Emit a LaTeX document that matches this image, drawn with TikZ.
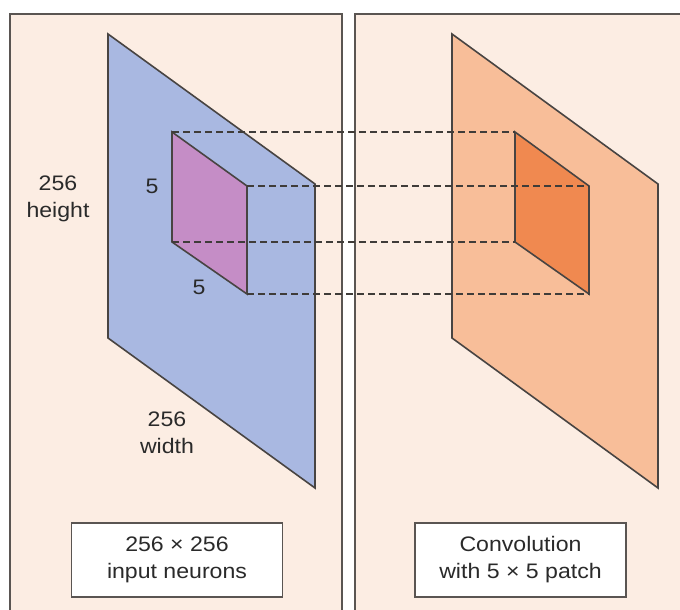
\documentclass[tikz,border=0pt]{standalone}
\usepackage{fontspec}
\setmainfont{Liberation Sans}[FakeStretch=1.1]
\definecolor{panelbg}{HTML}{FCEDE3}
\definecolor{edge}{HTML}{5A5552}
\definecolor{bluef}{HTML}{A9B8E1}
\definecolor{purplef}{HTML}{C58DC6}
\definecolor{orangef}{HTML}{F8BE99}
\definecolor{darkorf}{HTML}{F08950}
\definecolor{txt}{HTML}{2A2A2A}
\tikzset{
  panel/.style={draw=edge, line width=2pt},
  plane/.style={draw=edge!80!black, line width=1.6pt, line join=miter},
  guide/.style={draw=edge!70!black, line width=1.2pt, dash pattern=on 7pt off 4pt},
  label/.style={font=\fontsize{21}{27}\selectfont, text=txt, align=center, inner sep=0pt},
  infobox/.style={draw=edge, line width=1.8pt, fill=white, minimum width=211pt, minimum height=74pt, align=center, font=\fontsize{21}{27}\selectfont, text=txt, inner sep=0pt}
}
\begin{document}
\begin{tikzpicture}[x=1pt,y=-1pt]
\useasboundingbox (0,0) rectangle (680,610);
\clip (0,0) rectangle (680,610);
\fill[white] (0,0) rectangle (680,610);
% panels
\fill[panelbg] (10,14) rectangle (342,620);
\draw[panel] (10,620) -- (10,14) -- (342,14) -- (342,620);
\fill[panelbg] (355,14) rectangle (690,620);
\draw[panel] (355,620) -- (355,14) -- (690,14);
% corners
\coordinate (b1) at (108,34);  \coordinate (b2) at (315,184);
\coordinate (b3) at (315,488); \coordinate (b4) at (108,338);
\coordinate (p1) at (172,132); \coordinate (p2) at (247,186);
\coordinate (p3) at (247,294); \coordinate (p4) at (172,242);
\coordinate (o1) at (452,34);  \coordinate (o2) at (658,184);
\coordinate (o3) at (658,488); \coordinate (o4) at (452,338);
\coordinate (q1) at (515,132); \coordinate (q2) at (589,186);
\coordinate (q3) at (589,294); \coordinate (q4) at (515,242);
% planes
\filldraw[plane, fill=bluef] (b1) -- (b2) -- (b3) -- (b4) -- cycle;
\filldraw[plane, fill=purplef] (p1) -- (p2) -- (p3) -- (p4) -- cycle;
\filldraw[plane, fill=orangef] (o1) -- (o2) -- (o3) -- (o4) -- cycle;
\filldraw[plane, fill=darkorf] (q1) -- (q2) -- (q3) -- (q4) -- cycle;
% guides
\draw[guide] (p1) -- (q1);
\draw[guide] (p2) -- (q2);
\draw[guide] (p4) -- (q4);
\draw[guide] (p3) -- (q3);
% labels
\node[label] (hgt) at (58,199) {256\\height};
\node[label] (five1) at (152,186) {5};
\node[label] (five2) at (199,287) {5};
\node[label] (wid) at (167,433) {256\\width};
% boxes
\node[infobox] (inbox) at (177,560) {256 × 256\\input neurons};
\node[infobox] (convbox) at (520.5,560) {Convolution\\with 5 × 5 patch};
\end{tikzpicture}
\end{document}
